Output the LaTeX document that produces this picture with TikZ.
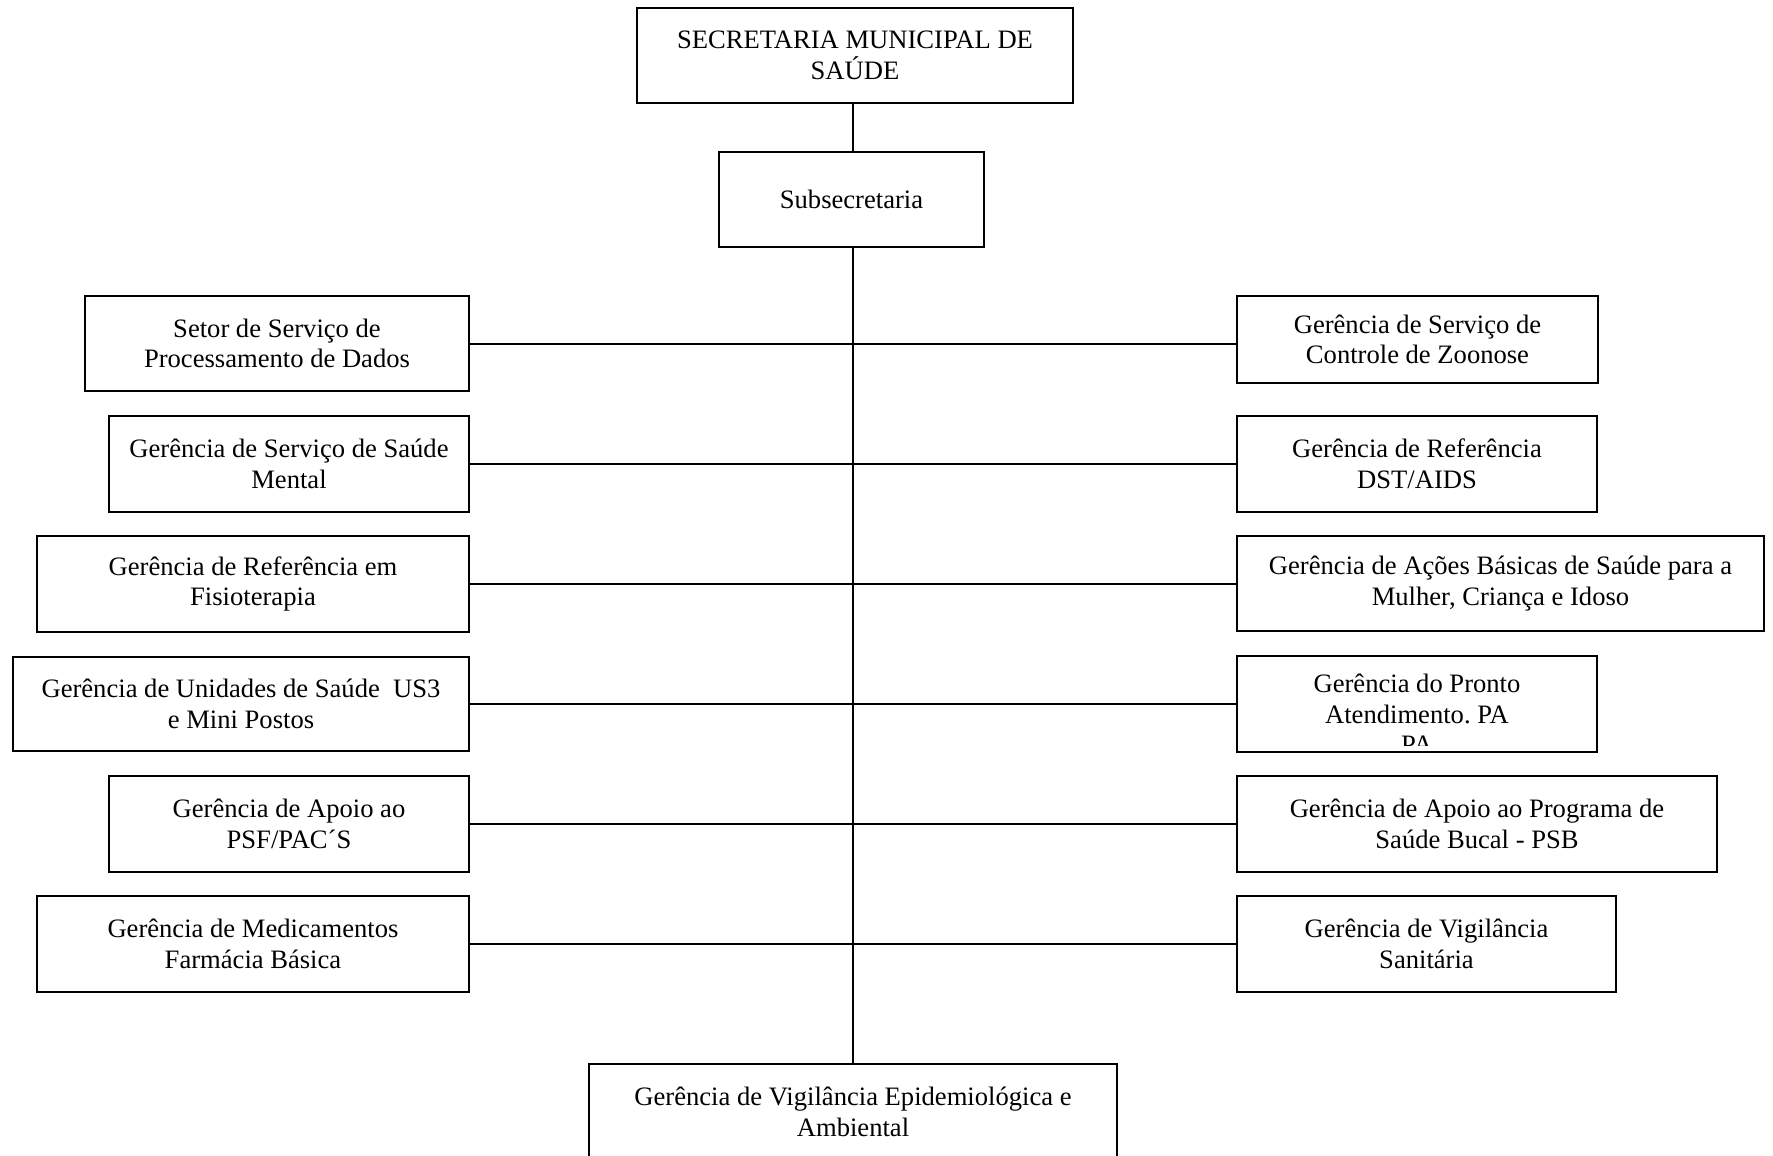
\documentclass[tikz,border=0pt]{standalone}
\usepackage{fontspec}
\setmainfont{Liberation Serif}
\frenchspacing
\tikzset{
  boxfont/.style={font=\fontsize{13.3}{15.3}\selectfont},
  box/.style={draw, line width=1pt, inner sep=0pt, align=center, boxfont},
  conn/.style={line width=1pt}
}
\newcommand\orgbox[6]{\node[box, minimum width={(#4-#2)*0.5pt}, minimum height={(#5-#3)*0.5pt}] (#1) at ({(#2+#4)/2},{(#3+#5)/2}) {#6};}
\begin{document}
\begin{tikzpicture}[x=0.5pt,y=-0.5pt]
\useasboundingbox (0,0) rectangle (1773,1156);
\orgbox{top}{637}{8}{1073}{103}{SECRETARIA MUNICIPAL DE\\SAÚDE}
\orgbox{sub}{719}{152}{984}{247}{Subsecretaria}
\orgbox{bot}{589}{1064}{1117}{1160}{Gerência de Vigilância Epidemiológica e\\Ambiental}
% left column
\orgbox{L1}{85}{296}{469}{391}{Setor de Serviço de\\Processamento de Dados}
\orgbox{L2}{109}{416}{469}{512}{Gerência de Serviço de Saúde\\Mental}
\orgbox{L3}{37}{536}{469}{632}{Gerência de Referência em\\Fisioterapia}
\orgbox{L4}{13}{657}{469}{751}{Gerência de Unidades de Saúde~~US3\\e Mini Postos}
\orgbox{L5}{109}{776}{469}{872}{Gerência de Apoio ao\\PSF/PAC´S}
\orgbox{L6}{37}{896}{469}{992}{Gerência de Medicamentos\\Farmácia Básica}
% right column
\orgbox{R1}{1237}{296}{1598}{383}{Gerência de Serviço de\\Controle de Zoonose}
\orgbox{R2}{1237}{416}{1597}{512}{Gerência de Referência\\DST/AIDS}
\orgbox{R3}{1237}{536}{1764}{631}{Gerência de Ações Básicas de Saúde para a\\Mulher, Criança e Idoso}
\node[box, minimum width={(1597-1237)*0.5pt}, minimum height={(752-656)*0.5pt},
  path picture={
    \clip ([yshift=3.5pt]path picture bounding box.south west) rectangle (path picture bounding box.north east);
    \node[boxfont, align=center, inner sep=0pt]
    at ([yshift=-5pt]path picture bounding box.center) {Gerência do Pronto\\Atendimento. PA\\PA};}]
  (R4) at ({(1237+1597)/2},{(656+752)/2}) {};
\orgbox{R5}{1237}{776}{1717}{872}{Gerência de Apoio ao Programa de\\Saúde Bucal - PSB}
\orgbox{R6}{1237}{896}{1616}{992}{Gerência de Vigilância\\Sanitária}
% connectors
\draw[conn] (top.south -| bot.north) -- (sub.north -| bot.north);
\draw[conn] (sub.south -| bot.north) -- (bot.north);
\foreach \i in {1,...,6}{
  \draw[conn] (L\i.east) -- (L\i.east -| R\i.west);
}
\end{tikzpicture}
\end{document}
